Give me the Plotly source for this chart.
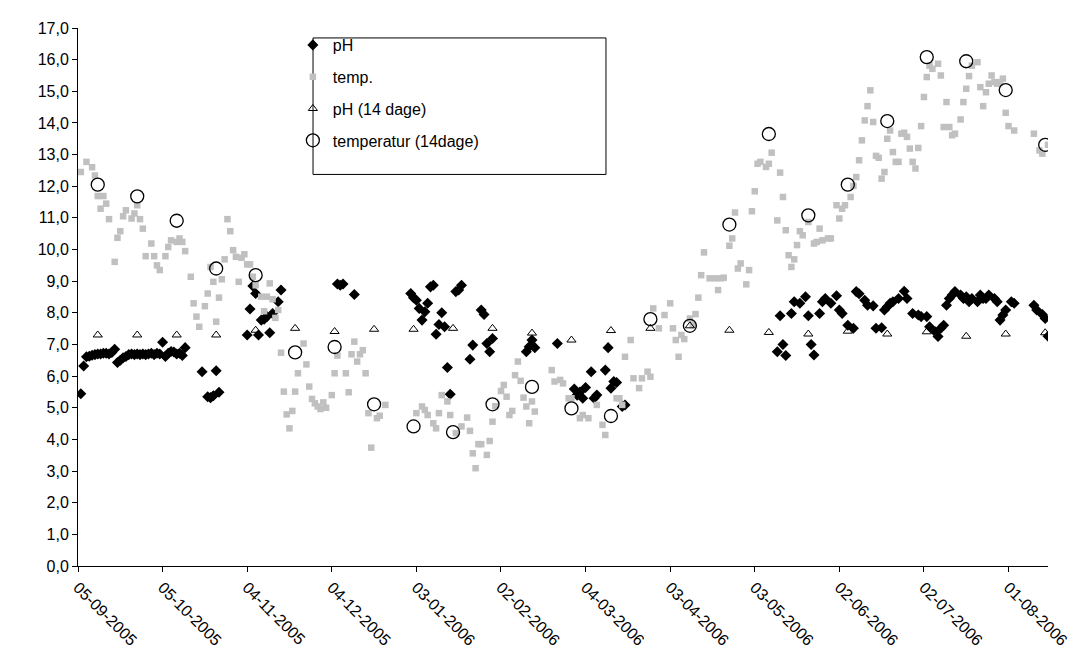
import pandas as pd
import plotly.graph_objects as go

# ---- data ----
start_date = "2005-09-05"   # first day of the series (day 0)

# daily pH: day number since 05-09-2005, value
ph_dag = [1, 2, 3, 4, 5, 6, 7, 8, 9, 10,
          11, 12, 13, 14, 15, 16, 17, 18, 19, 20,
          21, 22, 23, 24, 25, 26, 27, 28, 29, 30,
          31, 32, 33, 34, 35, 36, 37, 38, 44, 46,
          47, 48, 49, 50, 60, 61, 62, 63, 64, 65,
          66, 67, 68, 69, 71, 72, 92, 93, 94, 98,
          118, 119, 120, 121, 122, 123, 124, 125, 126, 127,
          128, 129, 130, 131, 132, 134, 135, 136, 139, 140,
          143, 144, 145, 146, 147, 159, 160, 161, 162, 170,
          176, 177, 178, 179, 180, 182, 183, 184, 187, 188,
          189, 190, 191, 193, 194, 248, 249, 250, 251, 253,
          254, 256, 258, 259, 260, 261, 263, 264, 265, 267,
          269, 270, 271, 273, 275, 276, 277, 279, 280, 282,
          283, 285, 286, 287, 288, 289, 291, 293, 294, 296,
          298, 299, 301, 302, 304, 305, 306, 307, 308, 309,
          310, 311, 313, 314, 315, 316, 317, 319, 320, 321,
          322, 323, 325, 326, 327, 328, 329, 331, 332, 339,
          340, 342, 343, 344]
ph_val = [5.44, 6.32, 6.61, 6.63, 6.66, 6.68, 6.70, 6.70, 6.72, 6.72,
          6.70, 6.75, 6.85, 6.43, 6.50, 6.58, 6.62, 6.68, 6.70, 6.68,
          6.70, 6.68, 6.70, 6.68, 6.70, 6.72, 6.68, 6.72, 6.70, 7.07,
          6.62, 6.72, 6.78, 6.76, 6.70, 6.72, 6.65, 6.90, 6.14, 5.35,
          5.32, 5.38, 6.17, 5.49, 7.30, 8.12, 8.85, 8.61, 7.30, 7.77,
          7.80, 7.88, 7.37, 7.98, 8.35, 8.72, 8.91, 8.87, 8.91, 8.58,
          8.61, 8.48, 8.40, 8.14, 7.77, 8.03, 8.30, 8.82, 8.87, 7.32,
          7.63, 8.00, 7.56, 6.27, 5.43, 8.67, 8.72, 8.87, 6.53, 6.98,
          8.09, 7.95, 7.03, 6.77, 7.19, 6.77, 6.93, 7.14, 6.90, 7.03,
          5.59, 5.40, 5.50, 5.30, 5.64, 6.14, 5.30, 5.40, 6.19, 6.90,
          5.62, 5.83, 5.80, 5.04, 5.09, 6.77, 7.91, 7.00, 6.65, 7.98,
          8.35, 8.30, 8.51, 7.91, 7.00, 6.67, 7.98, 8.35, 8.45, 8.30,
          8.54, 8.09, 7.98, 7.61, 7.51, 8.67, 8.60, 8.40, 8.24, 8.22,
          7.51, 7.53, 8.09, 8.19, 8.30, 8.35, 8.45, 8.68, 8.45, 7.98,
          7.93, 7.88, 7.88, 7.56, 7.40, 7.25, 7.51, 7.61, 8.24, 8.45,
          8.56, 8.67, 8.56, 8.45, 8.51, 8.35, 8.45, 8.35, 8.56, 8.45,
          8.45, 8.56, 8.45, 8.35, 7.77, 7.93, 8.09, 8.35, 8.30, 8.24,
          8.09, 7.95, 7.82, 7.26]

# daily temperature: day number since 05-09-2005, value
temp_dag = [1, 3, 5, 6, 7, 8, 9, 10, 11, 13,
            14, 15, 16, 17, 19, 20, 21, 22, 23, 24,
            26, 27, 28, 29, 31, 32, 33, 35, 36, 37,
            38, 40, 41, 42, 43, 45, 46, 47, 48, 49,
            50, 51, 52, 53, 54, 55, 56, 57, 58, 59,
            60, 61, 62, 63, 65, 66, 67, 68, 69, 70,
            71, 72, 73, 74, 75, 76, 77, 78, 80, 81,
            82, 83, 84, 85, 86, 87, 88, 90, 91, 92,
            95, 96, 97, 98, 99, 100, 101, 102, 103, 104,
            106, 107, 109, 120, 122, 123, 124, 126, 127, 128,
            129, 131, 132, 134, 136, 138, 139, 140, 141, 142,
            143, 145, 146, 147, 148, 150, 151, 152, 153, 154,
            155, 156, 157, 158, 159, 160, 161, 162, 168, 169,
            171, 172, 174, 175, 178, 179, 181, 184, 186, 187,
            191, 192, 193, 194, 196, 197, 199, 200, 202, 203,
            204, 206, 208, 210, 211, 212, 213, 214, 215, 217,
            218, 219, 220, 221, 222, 224, 226, 227, 228, 229,
            231, 232, 233, 234, 235, 237, 238, 239, 240, 241,
            242, 244, 245, 246, 248, 249, 250, 251, 252, 253,
            254, 255, 256, 257, 259, 261, 262, 263, 264, 266,
            267, 269, 270, 271, 272, 274, 275, 276, 277, 278,
            279, 280, 281, 282, 283, 284, 285, 286, 287, 288,
            289, 290, 291, 292, 293, 294, 295, 296, 297, 298,
            299, 300, 301, 302, 303, 305, 306, 307, 308, 309,
            310, 311, 313, 314, 315, 316, 317, 319, 320, 321,
            322, 323, 324, 325, 326, 327, 328, 329, 330, 332,
            339, 341, 342, 344]
temp_val = [12.45, 12.77, 12.60, 12.34, 11.69, 11.29, 11.69, 11.45, 10.96, 9.61,
            10.37, 10.58, 11.05, 11.24, 10.98, 11.14, 11.40, 10.96, 10.66, 9.79,
            10.19, 9.79, 9.50, 9.35, 9.79, 10.08, 10.29, 10.24, 10.35, 10.24,
            9.95, 9.14, 8.30, 7.88, 7.56, 8.21, 8.61, 9.45, 8.98, 7.72,
            8.48, 9.06, 9.69, 10.96, 10.58, 9.98, 9.77, 8.98, 9.74, 9.85,
            9.53, 9.53, 9.14, 8.87, 8.51, 8.05, 8.51, 8.93, 8.43, 7.84,
            8.09, 6.74, 5.51, 4.79, 4.35, 4.90, 5.51, 6.09, 7.03, 6.37,
            5.67, 5.28, 5.14, 5.04, 4.96, 5.17, 5.00, 5.40, 6.09, 6.65,
            6.09, 5.49, 6.69, 7.09, 6.46, 6.69, 6.82, 6.09, 4.83, 3.74,
            4.67, 4.75, 5.09, 4.83, 5.04, 4.93, 4.77, 4.51, 4.35, 4.83,
            5.40, 5.20, 4.77, 4.20, 4.41, 4.69, 4.27, 3.56, 3.09, 3.85,
            3.85, 3.51, 3.95, 4.56, 5.05, 5.53, 5.72, 5.35, 4.77, 4.90,
            6.03, 6.46, 5.85, 5.32, 5.04, 4.51, 5.20, 4.88, 6.19, 5.83,
            5.88, 5.77, 5.30, 5.30, 4.67, 4.77, 4.67, 5.09, 4.46, 4.14,
            5.30, 5.30, 5.09, 6.61, 7.14, 5.93, 5.62, 5.93, 6.14, 5.98,
            8.14, 7.51, 7.93, 8.30, 7.51, 7.14, 6.61, 7.30, 7.17, 7.82,
            7.61, 7.96, 8.48, 9.19, 9.91, 9.09, 9.09, 8.72, 9.09, 9.11,
            10.12, 10.35, 11.17, 9.40, 9.56, 8.90, 9.35, 11.21, 11.84, 12.71,
            12.77, 12.61, 12.71, 13.06, 10.92, 12.43, 11.66, 10.61, 9.82, 9.45,
            9.69, 10.14, 10.58, 10.45, 10.87, 10.19, 10.24, 10.66, 10.29, 10.35,
            10.35, 11.40, 10.98, 11.29, 11.40, 11.66, 12.01, 12.29, 12.82, 13.45,
            14.08, 14.53, 15.03, 14.03, 12.96, 12.90, 12.24, 12.45, 13.50, 13.76,
            13.08, 12.77, 12.77, 13.66, 13.69, 13.56, 13.19, 12.77, 12.56, 13.21,
            13.90, 14.82, 15.45, 15.81, 15.71, 15.87, 15.50, 13.87, 14.66, 13.87,
            13.61, 13.66, 14.11, 14.66, 15.08, 15.48, 15.81, 15.92, 15.13, 14.53,
            14.97, 15.24, 15.50, 15.29, 15.24, 15.29, 15.40, 14.32, 13.90, 13.76,
            13.66, 13.13, 13.03, 13.31]

# 14-day samples
dato_14 = ["2005-09-12", "2005-09-26", "2005-10-10", "2005-10-24", "2005-11-07",
           "2005-11-21", "2005-12-05", "2005-12-19", "2006-01-02", "2006-01-16",
           "2006-01-30", "2006-02-13", "2006-02-27", "2006-03-13", "2006-03-27",
           "2006-04-10", "2006-04-24", "2006-05-08", "2006-05-22", "2006-06-05",
           "2006-06-19", "2006-07-03", "2006-07-17", "2006-07-31", "2006-08-14"]
ph_14 = [7.30, 7.30, 7.30, 7.30, 7.45, 7.51, 7.41, 7.48, 7.48, 7.51,
         7.51, 7.36, 7.14, 7.44, 7.51, 7.59, 7.45, 7.38, 7.33, 7.42,
         7.33, 7.40, 7.26, 7.33, 7.37]
temp_14 = [12.05, 11.68, 10.91, 9.40, 9.19, 6.75, 6.92, 5.11, 4.41, 4.23,
           5.11, 5.66, 4.98, 4.74, 7.80, 7.59, 10.79, 13.65, 11.08, 12.05,
           14.06, 16.08, 15.95, 15.04, 13.31]

# x-axis ticks
tick_dates = ["2005-09-05", "2005-10-05", "2005-11-04", "2005-12-04", "2006-01-03",
              "2006-02-02", "2006-03-04", "2006-04-03", "2006-05-03", "2006-06-02",
              "2006-07-02", "2006-08-01"]
tick_labels = ["05-09-2005", "05-10-2005", "04-11-2005", "04-12-2005", "03-01-2006",
               "02-02-2006", "04-03-2006", "03-04-2006", "03-05-2006", "02-06-2006",
               "02-07-2006", "01-08-2006"]
y_ticks = list(range(0, 18))

x_start = "2005-09-05"
x_end = "2006-08-15"

# ---- figure ----
base = pd.Timestamp(start_date)
ph_x = base + pd.to_timedelta(ph_dag, unit="D")
temp_x = base + pd.to_timedelta(temp_dag, unit="D")
d14 = pd.to_datetime(dato_14)

FONT = "Liberation Sans, Arial, sans-serif"
FS = 16

fig = go.Figure()
fig.add_trace(go.Scatter(
    x=ph_x, y=ph_val, mode="markers", name="pH", legendgroup="a",
    marker=dict(symbol="diamond", size=8.5, color="black", line=dict(width=0)),
))
fig.add_trace(go.Scatter(
    x=temp_x, y=temp_val, mode="markers", name="temp.", legendgroup="b",
    marker=dict(symbol="square", size=6.5, color="#c0c0c0", line=dict(width=0)),
))
fig.add_trace(go.Scatter(
    x=d14, y=ph_14, mode="markers", name="pH (14 dage)", legendgroup="c",
    marker=dict(symbol="triangle-up-open", size=8, color="black", line=dict(width=1)),
))
fig.add_trace(go.Scatter(
    x=d14, y=temp_14, mode="markers", name="temperatur (14dage)", legendgroup="d",
    marker=dict(symbol="circle-open", size=13, color="black", line=dict(width=1.3)),
))

# legend frame
fig.add_shape(type="rect", xref="paper", yref="paper",
              x0=0.2423, x1=0.5443, y0=0.7278, y1=0.9815,
              line=dict(color="black", width=1), fillcolor="white", layer="below")

fig.update_layout(
    width=1086, height=671,
    margin=dict(l=70, r=46, t=18, b=113),
    paper_bgcolor="white", plot_bgcolor="white",
    separators=", ",
    font=dict(family=FONT, size=FS, color="black"),
    showlegend=True,
    legend=dict(x=0.2215, y=1.0, xanchor="left", yanchor="top",
                bgcolor="rgba(0,0,0,0)", borderwidth=0,
                traceorder="grouped", tracegroupgap=8,
                font=dict(family=FONT, size=FS, color="black")),
    xaxis=dict(type="date", range=[x_start, x_end],
               tickmode="array", tickvals=tick_dates, ticktext=tick_labels,
               tickangle=45, ticks="outside", ticklen=5, tickcolor="black",
               showline=True, linecolor="black", linewidth=1,
               showgrid=False, zeroline=False,
               tickfont=dict(family=FONT, size=FS, color="black")),
    yaxis=dict(range=[0, 17], tickmode="array", tickvals=y_ticks,
               tickformat=".1f", ticks="outside", ticklen=5, tickcolor="black",
               showline=True, linecolor="black", linewidth=1,
               showgrid=False, zeroline=False,
               tickfont=dict(family=FONT, size=FS, color="black")),
)

fig.write_html("out.html")
